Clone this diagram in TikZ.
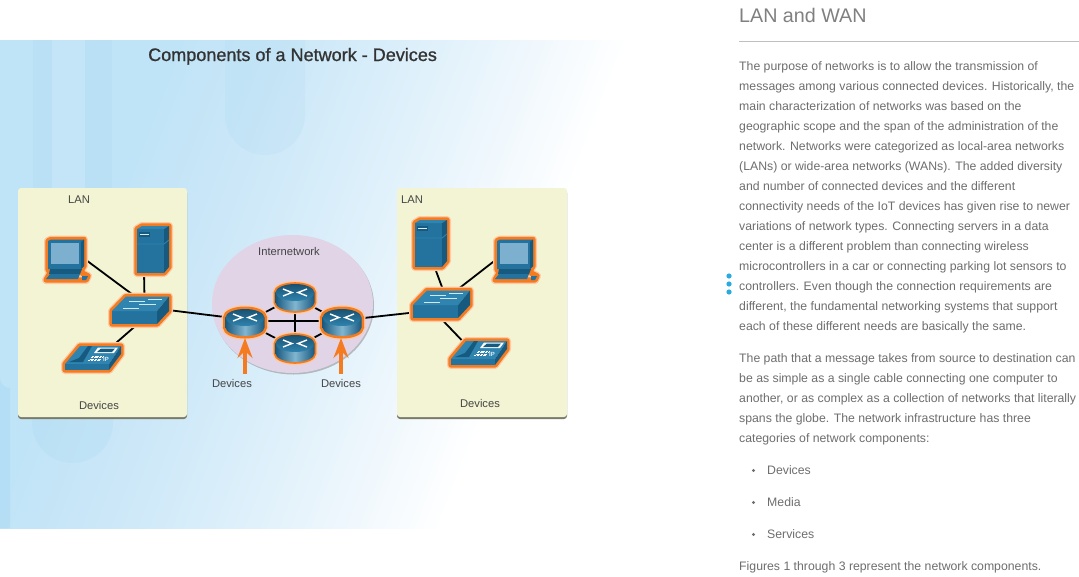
\documentclass[tikz,border=0pt]{standalone}
\usepackage{fontspec}
\setmainfont{Liberation Sans}
\usetikzlibrary{arrows.meta,calc}
\definecolor{bga}{HTML}{C0E4F7}
\definecolor{bgb}{HTML}{CBE7F8}
\definecolor{bgc}{HTML}{D9EEFA}
\definecolor{bgd}{HTML}{EAF5FC}
\definecolor{stripe}{HTML}{8CCBEE}
\definecolor{cardfill}{HTML}{F3F4D3}
\definecolor{inetfill}{HTML}{E0D4E6}
\definecolor{halocol}{HTML}{F47B20}
\definecolor{devfront}{HTML}{24739F}
\definecolor{devtop}{HTML}{2F84B0}
\definecolor{devside}{HTML}{175A80}
\definecolor{screencol}{HTML}{7DAFCE}
\definecolor{labelcol}{HTML}{454545}
\definecolor{bodycol}{HTML}{6E6E6E}
\definecolor{dotcol}{HTML}{29ABE2}
\pgfdeclarehorizontalshading{bgshade}{100bp}{color(0bp)=(bga); color(45bp)=(bga); color(50bp)=(bgb); color(55bp)=(bgc); color(60bp)=(bgd); color(66bp)=(white); color(100bp)=(white)}
\tikzset{
  x=1pt,y=-1pt,
  glowout/.style={draw=halocol!40,line width=8,line join=round},
  glowin/.style={draw=halocol,line width=5.4,line join=round},
  linkline/.style={draw=black,line width=1.8},
  devarrow/.style={draw=halocol,line width=3.2,-{Stealth[length=20,width=15,inset=7]}},
  card/.style={fill=cardfill,rounded corners=3},
  devbox/.style={inner sep=0,outer sep=0},
  caption/.style={text=labelcol,inner sep=0,font=\fontsize{11.2}{13}\selectfont},
  bodytext/.style={text=bodycol,inner sep=0,anchor=base west,font=\fontsize{12.27}{14}\selectfont},
}
\newcommand\glowpath[1]{\draw[glowout] #1; \draw[glowin] #1;}
\newcommand\laptopdev[2]{\begin{scope}[shift={(#1,#2)}]
  \glowpath{(5,4)--(8,2.5)--(41,2.5)--(41,29)--(39,32)--(39,36)--(45,39)--(43,43)--(3,43)--(7,36)--(5,32)--cycle}
  \fill[devfront] (5,4)--(8,2.5)--(41,2.5)--(41,29)--(38,32)--(5,32)--cycle;
  \fill[devside] (38,5)--(41,2.5)--(41,29)--(38,32)--cycle;
  \fill[screencol] (8,6)--(36,6)--(36,27)--(8,27)--cycle;
  \fill[devside] (7,32)--(39,32)--(37,37)--(6,37)--cycle;
  \fill[devfront] (7,37)--(37,37)--(35,42)--(3,42)--cycle;
  \fill[devfront] (39,39)--(45,39)--(43,43)--(39,43)--cycle;
\end{scope}}
\newcommand\serverdev[2]{\begin{scope}[shift={(#1,#2)}]
  \glowpath{(3,6)--(8,3)--(35,3)--(35,44)--(30,50)--(3,50)--cycle}
  \fill[devfront] (3,6)--(30,6)--(30,50)--(3,50)--cycle;
  \fill[devtop] (3,6)--(8,3)--(35,3)--(30,6)--cycle;
  \fill[devside] (30,6)--(35,3)--(35,44)--(30,50)--cycle;
  \fill[devside] (5,9)--(16,9)--(16,14)--(5,14)--cycle;
  \fill[white!85!devfront] (6,10.5)--(15,10.5)--(15,12)--(6,12)--cycle;
  \draw[devtop,line width=.8] (3,21)--(30,21)--(35,17);
\end{scope}}
\newcommand\switchdev[2]{\begin{scope}[shift={(#1,#2)}]
  \glowpath{(18,3.5)--(61,3.5)--(61,18)--(49,31)--(4,31)--(4,18)--cycle}
  \fill[devfront] (4,18)--(49,18)--(49,31)--(4,31)--cycle;
  \fill[devtop] (18,3.5)--(61,3.5)--(49,18)--(4,18)--cycle;
  \fill[devside] (49,18)--(61,3.5)--(61,18)--(49,31)--cycle;
  \draw[white!80!devtop,line width=.9] (21,8)--(37,8) (40,6)--(54,6) (15,15)--(31,15) (31,11.5)--(48,11.5);
\end{scope}}
\newcommand\phonedev[2]{\begin{scope}[shift={(#1,#2)}]
  \glowpath{(19,4)--(60,4)--(60,12)--(48,28)--(4,28)--(4,22)--cycle}
  \fill[devtop] (19,4)--(60,4)--(48,22)--(4,22)--cycle;
  \fill[devfront] (4,22)--(48,22)--(48,28)--(4,28)--cycle;
  \fill[devside] (48,22)--(60,4)--(60,12)--(48,28)--cycle;
  \fill[devside] (8,20)--(18,16)--(27,4)--(31,4)--(22,20)--cycle;
  \fill[white] (37,5.5)--(57,5.5)--(53,11)--(33,11)--cycle;
  \fill[devside] (40,6.5)--(54,6.5)--(51,10)--(36,10)--cycle;
  \foreach \r in {0,1,2,3}{\draw[white,line width=.9,dash pattern=on 2pt off .7pt] (31-\r*1.2,14+\r*1.6)--(42-\r*1.2,14+\r*1.6);}
  \node[inner sep=0,text=white!85!devtop,font=\bfseries\fontsize{6}{7}\selectfont] at (45,17) {IP};
\end{scope}}
\newcommand\routerdev[3]{\begin{scope}[shift={(#1,#2)}]
  \draw[draw=halocol!40,line width=#3+2.6] (22,10.5) ellipse (19.5 and 8.5) (2.5,10.5)--(2.5,20.5) (41.5,10.5)--(41.5,20.5) (22,20.5) ellipse (19.5 and 8.5);
  \draw[draw=halocol,line width=#3] (22,10.5) ellipse (19.5 and 8.5) (2.5,10.5)--(2.5,20.5) (41.5,10.5)--(41.5,20.5) (22,20.5) ellipse (19.5 and 8.5);
  \shade[left color=devside,right color=devside,middle color=devtop!60!white] (2.5,10.5)--(2.5,20.5) arc[start angle=180,end angle=0,x radius=19.5,y radius=8.5]--(41.5,10.5)--cycle;
  \shade[top color=devfront!70!black,bottom color=devtop] (22,10.5) ellipse (19.5 and 8.5);
  \draw[white,line width=1.4] (10,7)--(19,10.5)--(10,14) (34,7)--(25,10.5)--(34,14);
\end{scope}}
\begin{document}
\begin{tikzpicture}
\useasboundingbox (0,0) rectangle (1079,576);
\fill[white] (0,0) rectangle (1079,576);
% background panel
\begin{scope}
  \clip (0,40) rectangle (660,528);
  \begin{scope}[transform canvas={rotate around={-21:(300,284)}}]
    \shade[shading=bgshade] (-300,-516) rectangle (700,1084);
  \end{scope}
  \fill[stripe,opacity=.13] (33,40) rectangle (52,190);
  \fill[white,opacity=.05] (52,40) rectangle (85,190);
  \fill[stripe,opacity=.13] (85,40) rectangle (112,190);
  \fill[stripe,opacity=.22] (0,378) arc[start angle=180,end angle=90,x radius=10,y radius=10]--(10,528)--(0,528)--cycle;
  \fill[stripe,opacity=.10] (225,40)--(305,40)--(305,115) arc[start angle=0,end angle=180,x radius=40,y radius=40]--cycle;
  \fill[stripe,opacity=.12] (32,400)--(113,400)--(113,423) arc[start angle=0,end angle=180,x radius=40.5,y radius=40]--cycle;
\end{scope}
\node[inner sep=0,anchor=base west,text=black!80,font=\fontsize{18.04}{20}\selectfont\addfontfeature{FakeBold=1}] (title) at (148,61) {Components of a Network - Devices};
% cards
\fill[black!50!cardfill,rounded corners=3] (18,190) rectangle (187,419);
\fill[card] (18,188) rectangle (187,417);
\fill[black!50!cardfill,rounded corners=3] (397,190) rectangle (567,419);
\fill[card] (397,188) rectangle (567,417);
% internetwork cloud
\fill[black!45,opacity=.55] (293.5,305.5) ellipse (80.5 and 69);
\fill[inetfill] (292.5,304) ellipse (80.5 and 69);
% device anchors
\node[devbox,minimum width=49,minimum height=45] (lapL) at (67.5,259.5) {};
\node[devbox,minimum width=38,minimum height=54] (srvL) at (153,250) {};
\node[devbox,minimum width=65,minimum height=34] (swL) at (140.5,310) {};
\node[devbox,minimum width=63,minimum height=31] (phL) at (92.5,357.5) {};
\node[devbox,minimum width=44,minimum height=31] (rL) at (245,322.5) {};
\node[devbox,minimum width=44,minimum height=31] (rT) at (295,297) {};
\node[devbox,minimum width=44,minimum height=31] (rB) at (295,348) {};
\node[devbox,minimum width=44,minimum height=31] (rR) at (342,322.5) {};
\node[devbox,minimum width=38,minimum height=54] (srvR) at (431,243.5) {};
\node[devbox,minimum width=49,minimum height=45] (lapR) at (516,259.5) {};
\node[devbox,minimum width=65,minimum height=34] (swR) at (441,304.5) {};
\node[devbox,minimum width=63,minimum height=31] (phR) at (479,352) {};
% connectors
\draw[linkline] ([xshift=-8pt,yshift=1pt]lapL.east) -- ([xshift=-6pt,yshift=-3pt]swL.north);
\draw[linkline] ([xshift=4pt,yshift=-5pt]swL.north) -- ([xshift=-9pt,yshift=5pt]srvL.south);
\draw[linkline] ([xshift=-0.5pt,yshift=5pt]swL.south) -- ([xshift=20pt,yshift=-4pt]phL.north);
\draw[linkline] ([xshift=-5pt]swL.east) -- ([yshift=3pt]rL.center);
\draw[linkline] (rL.center) -- (rT.center);
\draw[linkline] (rL.center) -- (rB.center);
\draw[linkline] (rR.center) -- (rT.center);
\draw[linkline] (rR.center) -- (rB.center);
\draw[linkline] ([yshift=1.5pt]rL.center) -- ([yshift=1.5pt]rR.center);
\draw[linkline] (rT.center) -- (rB.center);
\draw[linkline] ([yshift=4pt,xshift=-5pt]rR.east) -- ([xshift=5pt,yshift=-8pt]swR.west);
\draw[linkline] ([xshift=3pt,yshift=-5pt]swR.north) -- ([xshift=3pt,yshift=5pt]srvR.south);
\draw[linkline] ([xshift=14pt,yshift=-4pt]swR.north) -- ([xshift=6pt,yshift=1pt]lapR.west);
\draw[linkline] ([yshift=4pt,xshift=-1pt]swR.south) -- ([xshift=-17pt,yshift=-4pt]phR.north);
% devices
\laptopdev{43}{237}
\serverdev{134}{223}
\switchdev{108}{293}
\phonedev{61}{342}
\routerdev{273}{282}{3.6}
\routerdev{273}{333}{3.6}
\routerdev{223}{307}{5}
\routerdev{320}{307}{5}
\serverdev{412}{217}
\laptopdev{492}{237}
\switchdev{409}{287}
\phonedev{447}{337}
% captions
\node[caption] (lanL) at (79,199.5) {LAN};
\node[caption] (devL) at (99,405.5) {Devices};
\node[caption] (inet) at (289,251.5) {Internetwork};
\node[caption] (devA) at (232,383.5) {Devices};
\node[caption] (devB) at (341,383.5) {Devices};
\node[caption] (lanR) at (412,199.5) {LAN};
\node[caption] (devR) at (480,403.5) {Devices};
% orange arrows
\draw[devarrow] ([xshift=13pt,yshift=5pt]devA.north) -- (rL.south);
\draw[devarrow] ([yshift=5pt]devB.north) -- (devB.north |- rR.south);
% right-hand text
\node[inner sep=0,anchor=base west,text=black!50,font=\fontsize{19.7}{24}\selectfont] (head) at (739,22) {LAN and WAN};
\coordinate (ruleend) at (1079,41);
\draw[black!25,line width=.8] (739,41) -- (ruleend);
\fill[dotcol] (729,276) circle (2.6) (729,284) circle (2.6) (729,292) circle (2.6);
\node[bodytext] (t1) at (739,70) {The purpose of networks is to allow the transmission of};
\node[bodytext] (t2) at (739,90) {messages among various connected devices. Historically, the};
\node[bodytext] (t3) at (739,110) {main characterization of networks was based on the};
\node[bodytext] (t4) at (739,130) {geographic scope and the span of the administration of the};
\node[bodytext] (t5) at (739,150) {network. Networks were categorized as local-area networks};
\node[bodytext] (t6) at (739,170) {(LANs) or wide-area networks (WANs). The added diversity};
\node[bodytext] (t7) at (739,190) {and number of connected devices and the different};
\node[bodytext] (t8) at (739,210) {connectivity needs of the IoT devices has given rise to newer};
\node[bodytext] (t9) at (739,230) {variations of network types. Connecting servers in a data};
\node[bodytext] (t10) at (739,250) {center is a different problem than connecting wireless};
\node[bodytext] (t11) at (739,270) {microcontrollers in a car or connecting parking lot sensors to};
\node[bodytext] (t12) at (739,290) {controllers. Even though the connection requirements are};
\node[bodytext] (t13) at (739,310) {different, the fundamental networking systems that support};
\node[bodytext] (t14) at (739,330) {each of these different needs are basically the same.};
\node[bodytext] (t15) at (739,362) {The path that a message takes from source to destination can};
\node[bodytext] (t16) at (739,382) {be as simple as a single cable connecting one computer to};
\node[bodytext] (t17) at (739,402) {another, or as complex as a collection of networks that literally};
\node[bodytext] (t18) at (739,422) {spans the globe. The network infrastructure has three};
\node[bodytext] (t19) at (739,442) {categories of network components:};
\fill[bodycol] (753.5,470.5) circle (1.6) (753.5,502.5) circle (1.6) (753.5,534.5) circle (1.6);
\node[bodytext] (b1) at (767,474) {Devices};
\node[bodytext] (b2) at (767,506) {Media};
\node[bodytext] (b3) at (767,538) {Services};
\node[bodytext] (t20) at (739,570) {Figures 1 through 3 represent the network components.};
\end{tikzpicture}
\end{document}
